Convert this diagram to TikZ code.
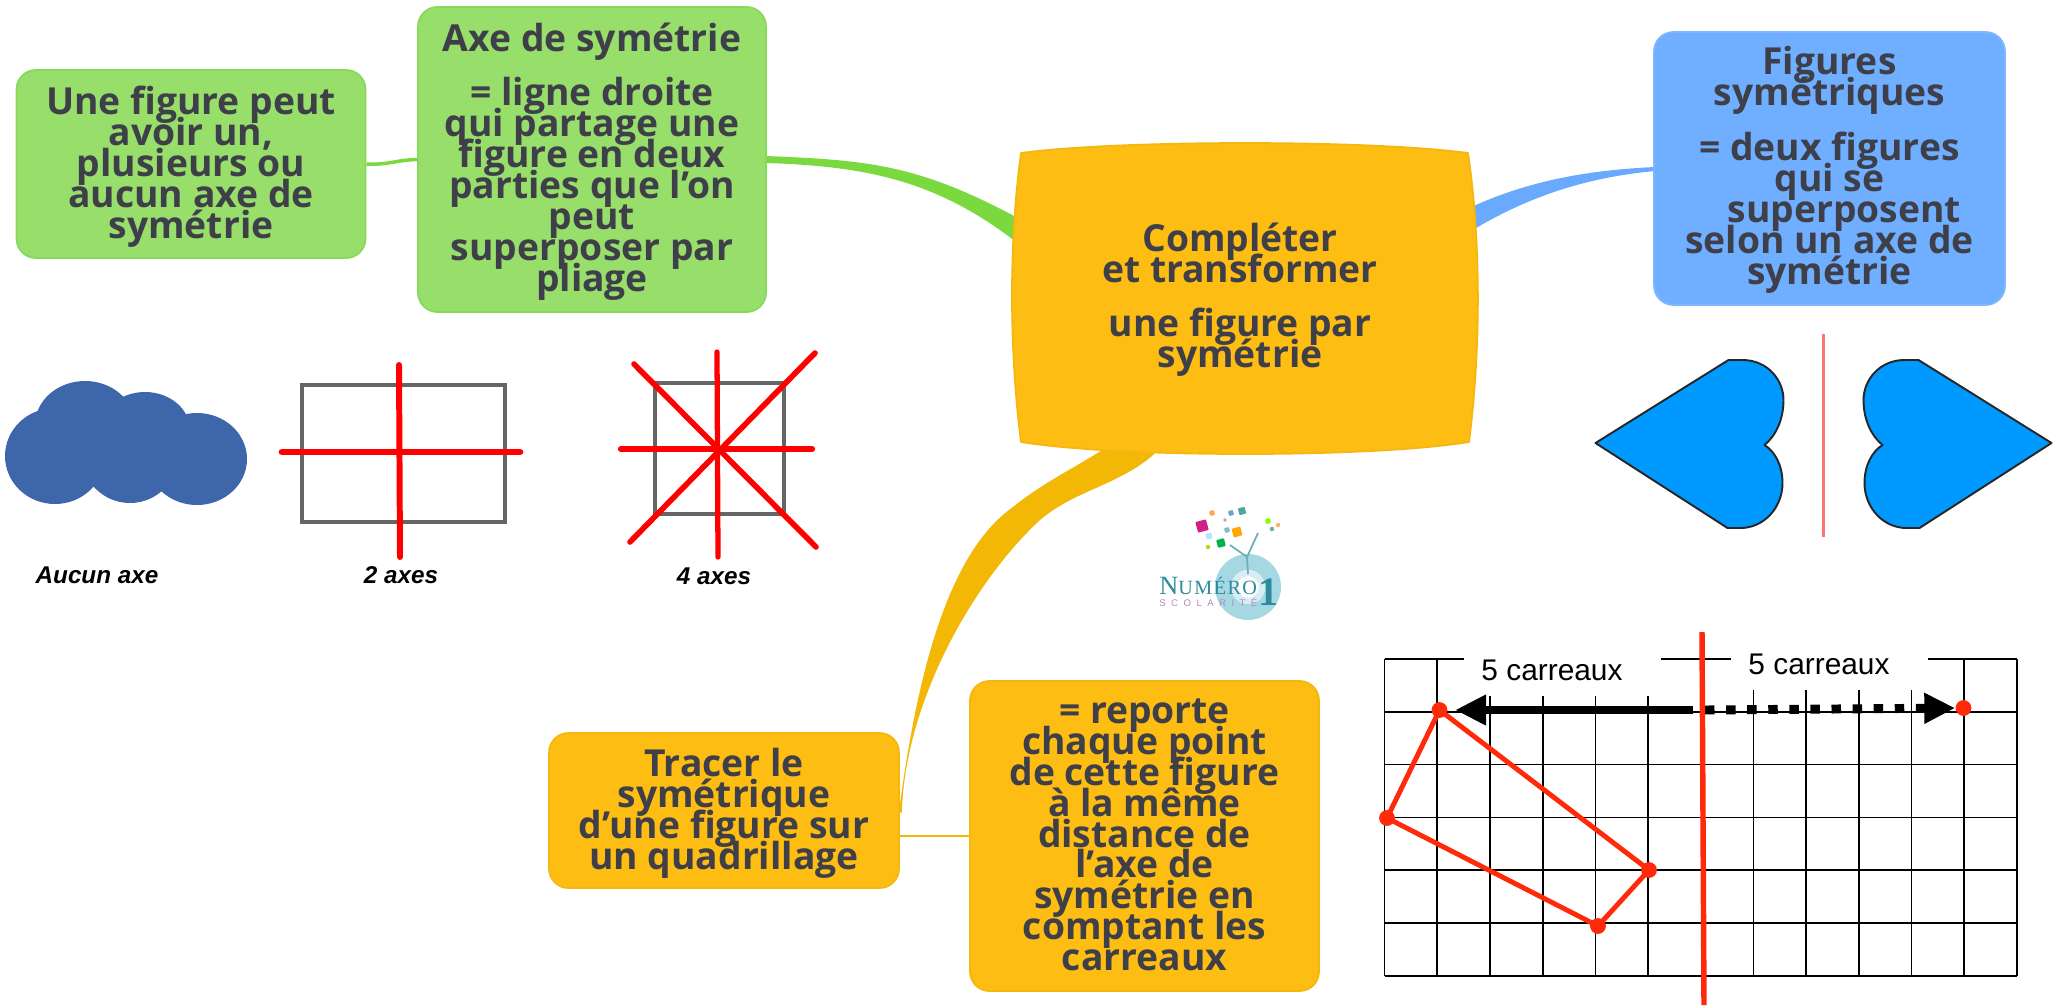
\documentclass[tikz,border=0pt]{standalone}
\usepackage{fontspec}
\setmainfont{Open Sans}
\newfontfamily\labelfont{Liberation Sans}
\newfontfamily\logoserif[LetterSpace=7]{Liberation Serif}
\newfontfamily\logosans[LetterSpace=56]{Liberation Sans}
\usetikzlibrary{arrows.meta,backgrounds,calc}

\definecolor{inktxt}{HTML}{3F3F4A}
\definecolor{greenfill}{HTML}{97DE6B}
\definecolor{greenedge}{HTML}{86DA5A}
\definecolor{greenlink}{HTML}{79D93F}
\definecolor{goldfill}{HTML}{FDBD13}
\definecolor{goldedge}{HTML}{F5B70F}
\definecolor{goldlink}{HTML}{F3B705}
\definecolor{bluefill}{HTML}{70AEFF}
\definecolor{bluelink}{HTML}{69AAFF}
\definecolor{cloudblue}{HTML}{3D66AB}
\definecolor{heartblue}{HTML}{0099FF}
\definecolor{axisred}{HTML}{FF2A0A}
\definecolor{ringblue}{HTML}{A6D8E4}
\definecolor{logoteal}{HTML}{2E8B9E}
\definecolor{logopink}{HTML}{B48CB8}

\newcommand{\maptext}{\bfseries\fontsize{21.2}{17.6}\selectfont\lineskiplimit=-100pt\relax}
\newcommand{\pushdown}[1]{\rule{0pt}{#1}}

\tikzset{
  mapbox/.style={rounded corners=11pt, inner sep=0pt, align=center, text=inktxt, font=\maptext},
  greenbox/.style={mapbox, fill=greenfill, draw=greenedge, line width=1pt},
  goldbox/.style={mapbox, fill=goldfill, draw=goldedge, line width=1pt},
  bluebox/.style={mapbox, fill=bluefill, draw=bluefill!90!white, line width=1pt},
  axelabel/.style={font=\labelfont\bfseries\itshape\fontsize{13.8}{16}\selectfont, text=black, inner sep=0pt},
  countlabel/.style={font=\labelfont\fontsize{17}{19}\selectfont, text=black, inner sep=0pt},
  axeline/.style={red, line cap=round},
  gridline/.style={black, line width=0.95pt},
  reddot/.style={circle, fill=axisred, minimum size=9pt, inner sep=0pt},
  solidarrow/.style={line width=5.1pt, -{Triangle[length=17.6pt,width=16.4pt]}},
}

\begin{document}
\begin{tikzpicture}[x=0.02cm,y=-0.02cm]
  \useasboundingbox (0,0) rectangle (2060,1005);

  \node[greenbox, minimum width=6.98cm, minimum height=3.76cm] (unefigure) at (191,164)
    {\pushdown{19pt}Une figure peut\\avoir un,\\plusieurs ou\\aucun axe de\\symétrie};
  \node[greenbox, minimum width=6.96cm, minimum height=6.10cm] (axesym) at (592,159.5)
    {\pushdown{18.4pt}Axe de symétrie\\[13.6pt]= ligne droite\\qui partage une\\figure en deux\\parties que l’on\\peut\\superposer par\\pliage};
  \node[mapbox, minimum width=9.30cm, minimum height=6.22cm] (centre) at (1240,298.5)
    {\pushdown{17.6pt}Compléter\\et transformer\\[13.6pt]une figure par\\symétrie};
  \node[bluebox, minimum width=7.02cm, minimum height=5.46cm] (figsym) at (1829.5,168.5)
    {\pushdown{17.6pt}Figures\\symétriques\\[13.6pt]= deux figures\\qui se\\\hspace*{0.8em}superposent\\selon un axe de\\symétrie};
  \node[goldbox, minimum width=7.00cm, minimum height=3.10cm] (tracer) at (724,810.5)
    {\pushdown{19pt}Tracer le\\symétrique\\d’une figure sur\\un quadrillage};
  \node[goldbox, minimum width=6.98cm, minimum height=6.20cm] (reporte) at (1144.5,836)
    {= reporte\\chaque point\\de cette figure\\à la même\\distance de\\l’axe de\\symétrie en\\comptant les\\carreaux\rule[-1.5pt]{0pt}{0pt}};

  \begin{scope}[on background layer]
    \draw[greenlink, line width=2pt] (unefigure.east) .. controls (390,165) and (395,160) .. (axesym.west);
    \fill[greenlink] ($(axesym.east)+(-2,-3.5)$) .. controls (870,160) and (920,165) .. ($(centre.west)+(13.5,-79)$)
      -- ($(centre.west)+(13.5,-53)$) .. controls (940,182) and (870,166) .. ($(axesym.east)+(-2,3.5)$) -- cycle;
    \fill[bluelink] ($(centre.east)+(-2.5,-91)$) .. controls (1530,180) and (1590,170) .. ($(figsym.west)+(2,-1.5)$)
      -- ($(figsym.west)+(2,2.5)$) .. controls (1590,177) and (1530,195) .. ($(centre.east)+(-2.5,-67)$) -- cycle;
    \fill[goldlink] ($(centre.south)+(-138,-4)$) .. controls (1070,470) and (1040,485) .. (1013,507)
      .. controls (955,548) and (920,650) .. ($(tracer.east)+(-1,2)$)
      -- ($(tracer.east)+(2,2)$) .. controls (905,700) and (975,580) .. (1040,520)
      .. controls (1075,490) and (1120,485) .. ($(centre.south)+(-85,-1)$) -- cycle;
    \draw[goldlink, line width=1.3pt] (reporte.west) -- (reporte.west -| tracer.east);
    % central box, bulging sides
    \filldraw[fill=goldfill, draw=goldedge, line width=1pt, line join=round] (1021,153)
      .. controls (1120,139.7) and (1370,139.7) .. (1468,153)
      .. controls (1481,240) and (1481,350) .. (1469,442)
      .. controls (1370,458) and (1120,458) .. (1021,442)
      .. controls (1009,350) and (1009,240) .. (1021,153) -- cycle;
  \end{scope}

  % cloud
  \foreach \cx/\cy/\rx/\ry in {55/456/50/48, 197/459/50/46, 130/451/50/52, 85/425/50/44, 145/430/45/38}{
    \fill[cloudblue] (\cx,\cy) ellipse [x radius=\rx*0.02cm, y radius=\ry*0.02cm];
  };
  \node[axelabel] (aucun) at (97,575) {Aucun axe};

  % rectangle with 2 axes
  \draw[black!60, line width=2pt] (302,385) rectangle (505,522);
  \draw[axeline, line width=3.8pt] (282,452) -- (520,452);
  \draw[axeline, line width=3.4pt] (399,365) -- (400,557);
  \node[axelabel] (deuxaxes) at (401,575) {2 axes};

  % square with 4 axes
  \draw[black!60, line width=2pt] (655,383) rectangle (784,514);
  \draw[axeline, line width=3.6pt] (621,449) -- (812,449);
  \draw[axeline, line width=3pt] (717,352) -- (718,557);
  \draw[axeline, line width=3.2pt] (634,364) -- (816,547);
  \draw[axeline, line width=3.2pt] (815,353) -- (630,542);
  \node[axelabel] (quatreaxes) at (714,576) {4 axes};

  % hearts on each side of their axis
  \foreach \s in {1,-1}{
    \begin{scope}[shift={(1823.5,0)},xscale=\s]
      \filldraw[fill=heartblue, draw=black!85, line width=1.1pt, line join=round] (-228,443) -- (-95,360) -- (-81,360)
        .. controls (-56,360) and (-40,380) .. (-40,400)
        .. controls (-40,420) and (-48,436) .. (-59,445)
        .. controls (-48,452) and (-41,466) .. (-41,483)
        .. controls (-41,508) and (-60,528) .. (-83,528)
        -- (-96,528) -- cycle;
    \end{scope}
  };
  \draw[red!55!white, line width=2pt] (1823.5,334) -- (1823.5,537);

  % logo
  \fill[ringblue, even odd rule] (1248,587) circle [radius=0.66cm] (1248,587) circle [radius=0.34cm];
  \fill[ringblue!45!white, even odd rule] (1248,587) circle [radius=0.34cm] (1248,587) circle [radius=0.22cm];
  \draw[logoteal!70!white, line width=1pt] (1230,545) -- (1247,557) -- (1258,533) (1247,557) -- (1248,574);
  \foreach \x/\y/\z/\c in {1202/526/11/magenta!70!violet, 1221/543/8/teal!60!green, 1237/532/9/orange!70!yellow,
      1242/511/7/teal!70, 1212/513/5/orange!70, 1231/513/5/cyan!50!gray, 1268/521/5/green!50!yellow,
      1272/529/4/teal!60, 1278/525/4/orange!60, 1209/536/6/cyan!30, 1225/520/3/gray!70,
      1227/530/5/teal!50, 1208/547/4/yellow!70!green}{
    \fill[\c, rotate around={15:(\x,\y)}, rounded corners=0.5pt] (\x-\z/2,\y-\z/2) rectangle (\x+\z/2,\y+\z/2);
  };
  \node[anchor=base west, inner sep=0pt, text=logoteal, font=\logoserif] (numero) at (1159,594)
    {\fontsize{15}{15}\selectfont N\fontsize{11.5}{11.5}\selectfont UMÉRO};
  \node[anchor=base, inner sep=0pt, text=logoteal, font=\logoserif\bfseries\fontsize{23}{23}\selectfont] (un) at (1269,605) {1};
  \node[anchor=base west, inner sep=0pt, text=logopink, font=\logosans\fontsize{5.5}{6}\selectfont] (scolarite) at (1159,606) {SCOLARITÉ};

  % quadrillage
  \foreach \i/\s in {0/659,1/659,2/696,3/696,4/696,5/696,7/690,8/690,9/690,10/690,11/659,12/659}{
    \draw[gridline] ({1384.6+52.7*\i},\s) -- ({1384.6+52.7*\i},976);
  };
  \foreach \j in {1,...,6}{
    \draw[gridline] (1384.6,{659+52.8*\j}) -- (2017,{659+52.8*\j});
  };
  \draw[gridline] (1384.6,659) -- (1464,659) (1661,659) -- (1731,659) (1928,659) -- (2017,659);
  \node[countlabel] (carreauxg) at (1552,670) {5 carreaux};
  \node[countlabel] (carreauxd) at (1819,664) {5 carreaux};

  \node[reddot] (ptA) at (1439.5,710) {};
  \node[reddot] (ptB) at (1649,870) {};
  \node[reddot] (ptC) at (1598,926) {};
  \node[reddot] (ptD) at (1387,818) {};
  \node[reddot] (ptE) at (1963.5,708) {};
  \draw[axisred, line width=2.8pt, line join=round] (ptA.center) -- (ptB.center) -- (ptC.center) -- (ptD.center) -- cycle;

  \coordinate (axehaut) at (1702,632);
  \coordinate (axebas) at (1704,1005);
  \coordinate (departg) at (1692.6,710);
  \coordinate (departd) at (1705,710);
  \draw[solidarrow, shorten >=4.2pt] (departg) -- (ptA);
  \draw[solidarrow, dash pattern=on 5.4pt off 6.6pt] (departd) -- (ptE);
  \draw[axisred, line width=3.1pt] (axehaut) -- (axebas);
\end{tikzpicture}
\end{document}
